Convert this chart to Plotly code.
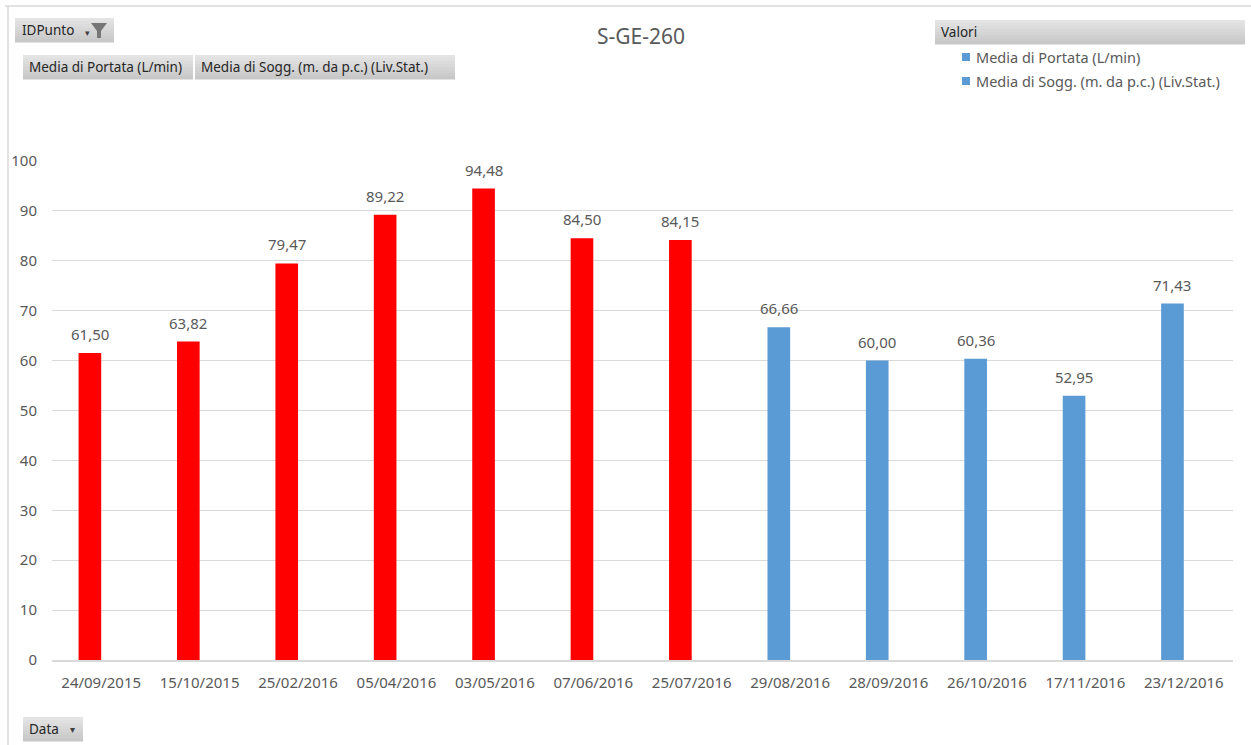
import plotly.graph_objects as go

# --- data -------------------------------------------------------------
dates = ["24/09/2015", "15/10/2015", "25/02/2016", "05/04/2016", "03/05/2016",
         "07/06/2016", "25/07/2016", "29/08/2016", "28/09/2016", "26/10/2016",
         "17/11/2016", "23/12/2016"]
portata = [61.50, 63.82, 79.47, 89.22, 94.48, 84.50, 84.15,
           66.66, 60.00, 60.36, 52.95, 71.43]
# second value field has no readings for this point
sogg = [None, None, None, None, None, None, None, None, None, None, None, None]
bar_colors = ["#FF0000"] * 7 + ["#5B9BD5"] * 5
y_ticks = [0, 10, 20, 30, 40, 50, 60, 70, 80, 90, 100]
series_names = ["Media di Portata (L/min)", "Media di Sogg. (m. da p.c.) (Liv.Stat.)"]

# --- canvas geometry --------------------------------------------------
W, H = 1251, 745
L, R, T, B = 52, 1233, 161, 660          # plot area in pixels
BARGAP = 0.54
FONT = "Noto Sans"
GREY = "#595959"


def px(x):
    return (x - L) / (R - L)


def py(y):
    return (B - y) / (B - T)


fig = go.Figure()
fig.add_trace(go.Bar(
    x=dates, y=portata, marker=dict(color=bar_colors, line=dict(width=0)),
    name=series_names[0], hoverinfo="x+y",
))
fig.add_trace(go.Bar(
    x=dates, y=sogg, marker=dict(color="#5B9BD5", line=dict(width=0)),
    name=series_names[1], hoverinfo="x+y",
))

shapes = []
annotations = []

# value labels above each bar of the first series (left slot of each group)
slot_px = (R - L) / len(dates)
bar_px = slot_px * (1 - BARGAP) / 2
for d, v in zip(dates, portata):
    annotations.append(dict(
        x=d, y=v, xref="x", yref="y", text=f"{v:.2f}".replace(".", ","),
        showarrow=False, yanchor="bottom", yshift=7, xshift=-bar_px / 2,
        font=dict(family=FONT, size=15, color=GREY),
    ))


def grad_button(x0, y0, x1, y1, top="#E4E4E4", bottom="#C8C8C8", steps=8):
    """Grey gradient box in pixel coordinates."""
    def mix(a, b, t):
        ca = [int(a[i:i + 2], 16) for i in (1, 3, 5)]
        cb = [int(b[i:i + 2], 16) for i in (1, 3, 5)]
        return "#" + "".join(f"{round(ca[k] + (cb[k] - ca[k]) * t):02X}" for k in range(3))
    h = (y1 - y0) / steps
    for i in range(steps):
        shapes.append(dict(
            type="rect", xref="paper", yref="paper", layer="above",
            x0=px(x0), x1=px(x1), y0=py(y0 + i * h), y1=py(y0 + (i + 1) * h + 0.5),
            fillcolor=mix(top, bottom, i / (steps - 1)), line=dict(width=0),
        ))


def label(x, y, text, size=14, color="#262626", anchor="left"):
    annotations.append(dict(
        x=px(x), y=py(y), xref="paper", yref="paper", text=text, showarrow=False,
        xanchor=anchor, yanchor="middle", font=dict(family=FONT, size=size, color=color),
    ))


# chart frame
shapes.append(dict(type="line", xref="paper", yref="paper", x0=px(5), x1=px(1251),
                   y0=py(6), y1=py(6), line=dict(color="#D9D9D9", width=1.5)))
shapes.append(dict(type="line", xref="paper", yref="paper", x0=px(8), x1=px(8),
                   y0=py(6), y1=py(745), line=dict(color="#D9D9D9", width=1.5)))

# IDPunto filter button
grad_button(15, 18, 114, 42)
label(20, 30, "IDPunto", size=13.5)
label(87, 33, "▾", size=9, color="#404040", anchor="center")
shapes.append(dict(type="path", xref="paper", yref="paper", layer="above",
                   path=(f"M {px(91)},{py(23)} L {px(107)},{py(23)} L {px(101)},{py(31)} "
                         f"L {px(101)},{py(38)} L {px(97)},{py(38)} L {px(97)},{py(31)} Z"),
                   fillcolor="#767676", line=dict(width=0)))

# value field buttons
grad_button(23, 55, 193, 79)
label(27, 67, series_names[0], size=13.5)
grad_button(195, 55, 455, 79)
label(199, 67, series_names[1], size=13.5)

# legend header and entries
grad_button(935, 20, 1245, 44)
label(939, 32, "Valori", size=13.5)
for i, name in enumerate(series_names):
    yc = 57 + 24 * i
    shapes.append(dict(type="rect", xref="paper", yref="paper", layer="above",
                       x0=px(962), x1=px(970), y0=py(yc - 4), y1=py(yc + 4),
                       fillcolor="#5B9BD5", line=dict(width=0)))
    label(974, yc, name, size=14.5, color=GREY)

# axis field button
grad_button(23, 717, 83, 741)
label(27, 729, "Data", size=13.5)
label(72, 729, "▾", size=10, color="#404040", anchor="center")

# title
label(641, 36, "S-GE-260", size=21, color=GREY, anchor="center")

fig.update_layout(
    width=W, height=H, autosize=False,
    margin=dict(l=L, r=W - R, t=T, b=H - B, pad=0),
    paper_bgcolor="white", plot_bgcolor="white",
    separators=",.",
    barmode="group", bargap=BARGAP, bargroupgap=0,
    showlegend=False,
    shapes=shapes, annotations=annotations,
    font=dict(family=FONT, color=GREY),
    xaxis=dict(
        type="category", categoryorder="array", categoryarray=dates,
        showgrid=False, showline=True, linecolor="#D9D9D9", linewidth=1.5,
        ticks="", tickfont=dict(family=FONT, size=15, color=GREY),
        ticklabelstandoff=8, fixedrange=True,
    ),
    yaxis=dict(
        range=[0, 100], tickvals=y_ticks, showgrid=True, gridcolor="#D9D9D9",
        gridwidth=1.2, zeroline=False, showline=False, ticks="",
        tickfont=dict(family=FONT, size=15, color=GREY),
        ticklabelstandoff=14, fixedrange=True,
    ),
)

fig.write_html("out.html")
